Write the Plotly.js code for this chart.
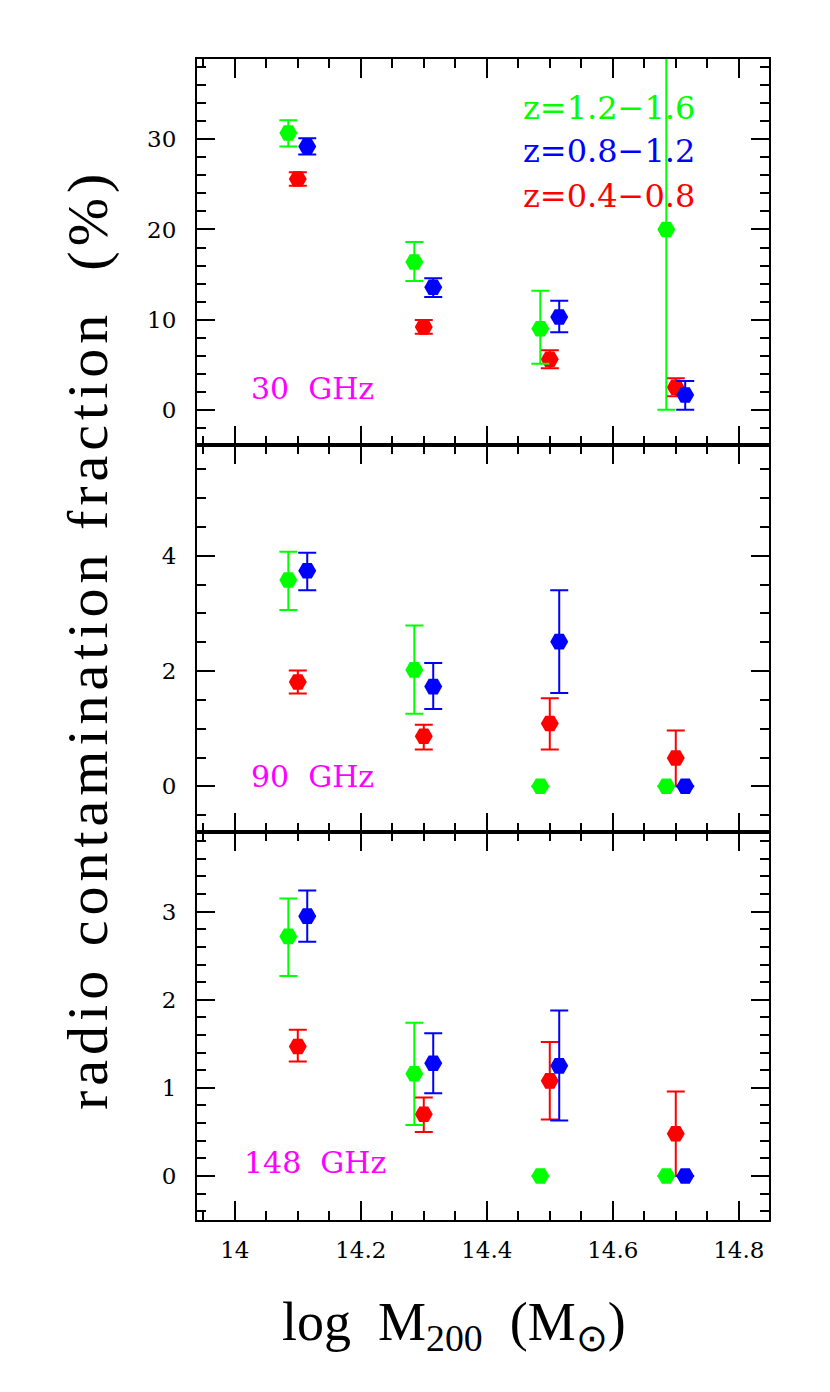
<!DOCTYPE html>
<html>
<head>
<meta charset="utf-8">
<script src="https://cdn.plot.ly/plotly-3.0.1.min.js"></script>
<style>html,body{margin:0;padding:0;background:#fff;}#chart{width:830px;height:1392px;}</style>
</head>
<body>
<div id="chart"></div>
<script>
// ---- data ----
const massGreen = [14.085, 14.285, 14.485, 14.685];
const massRed   = [14.100, 14.300, 14.500, 14.700];
const massBlue  = [14.115, 14.315, 14.515, 14.715];

const seriesNames = ["z=1.2\u22121.6", "z=0.8\u22121.2", "z=0.4\u22120.8"];
const panelNames = ["30 GHz", "90 GHz", "148 GHz"];
const xTickLabels = ["14", "14.2", "14.4", "14.6", "14.8"];
const xTickVals = [14, 14.2, 14.4, 14.6, 14.8];

// 30 GHz
const g30 = [30.7, 16.4, 9.0, 20.0];
const g30Up = [1.4, 2.2, 4.2, 30.0];
const g30Dn = [1.5, 2.1, 3.9, 20.0];
const b30 = [29.2, 13.6, 10.3, 1.65];
const b30Up = [0.9, 1.0, 1.8, 1.55];
const b30Dn = [0.9, 1.1, 1.7, 1.65];
const r30 = [25.6, 9.2, 5.6, 2.5];
const r30Up = [0.75, 0.75, 1.0, 1.0];
const r30Dn = [0.75, 0.75, 1.0, 1.0];

// 90 GHz
const g90 = [3.58, 2.02, 0, 0];
const g90Up = [0.49, 0.77, null, null];
const g90Dn = [0.52, 0.76, null, null];
const b90 = [3.74, 1.73, 2.51, 0];
const b90Up = [0.31, 0.41, 0.89, null];
const b90Dn = [0.34, 0.39, 0.89, null];
const r90 = [1.81, 0.87, 1.09, 0.49];
const r90Up = [0.20, 0.20, 0.44, 0.48];
const r90Dn = [0.20, 0.23, 0.45, 0.49];

// 148 GHz
const g148 = [2.72, 1.16, 0, 0];
const g148Up = [0.43, 0.58, null, null];
const g148Dn = [0.45, 0.58, null, null];
const b148 = [2.95, 1.28, 1.25, 0];
const b148Up = [0.29, 0.34, 0.63, null];
const b148Dn = [0.29, 0.34, 0.62, null];
const r148 = [1.47, 0.70, 1.08, 0.48];
const r148Up = [0.19, 0.19, 0.44, 0.48];
const r148Dn = [0.17, 0.20, 0.44, 0.48];

// ---- styling ----
const GREEN = "#00ff00", BLUE = "#0000ff", RED = "#ff0000", MAG = "#ff00ff";
const FONT = "DejaVu Serif";
const TITLEFONT = "Liberation Serif";

function tr(x, y, up, dn, color, xa, ya, name) {
  return {
    type: "scatter", mode: "markers", x: x, y: y, xaxis: xa, yaxis: ya, name: name,
    showlegend: false, cliponaxis: true,
    marker: {symbol: "hexagon2", size: 18, color: color, line: {width: 0}},
    error_y: {type: "data", symmetric: false, array: up, arrayminus: dn,
              color: color, thickness: 2, width: 9}
  };
}

const data = [
  // top panel (30 GHz): xaxis3 / yaxis3
  tr(massRed, r30, r30Up, r30Dn, RED, "x3", "y3", seriesNames[2]),
  tr(massBlue, b30, b30Up, b30Dn, BLUE, "x3", "y3", seriesNames[1]),
  tr(massGreen, g30, g30Up, g30Dn, GREEN, "x3", "y3", seriesNames[0]),
  // middle panel (90 GHz)
  tr(massRed, r90, r90Up, r90Dn, RED, "x2", "y2", seriesNames[2]),
  tr(massBlue, b90, b90Up, b90Dn, BLUE, "x2", "y2", seriesNames[1]),
  tr(massGreen, g90, g90Up, g90Dn, GREEN, "x2", "y2", seriesNames[0]),
  // bottom panel (148 GHz)
  tr(massRed, r148, r148Up, r148Dn, RED, "x", "y", seriesNames[2]),
  tr(massBlue, b148, b148Up, b148Dn, BLUE, "x", "y", seriesNames[1]),
  tr(massGreen, g148, g148Up, g148Dn, GREEN, "x", "y", seriesNames[0])
];

function xAxis(anchor, showLabels) {
  return {
    anchor: anchor, domain: [0, 1], range: [13.94, 14.848],
    tickmode: "array", tickvals: xTickVals, ticktext: xTickLabels,
    showticklabels: showLabels,
    ticks: "inside", ticklen: 19, tickwidth: 2, tickcolor: "#000",
    showline: true, linewidth: 2, linecolor: "#000", mirror: "allticks",
    showgrid: false, zeroline: false,
    tickfont: {family: FONT, size: 23, color: "#000"},
    ticklabelstandoff: 8,
    minor: {tick0: 14, dtick: 0.05, ticks: "inside", ticklen: 9, tickwidth: 2,
            tickcolor: "#000", showgrid: false}
  };
}
function yAxis(anchor, domain, range, dtick, mdtick) {
  return {
    anchor: anchor, domain: domain, range: range,
    tick0: 0, dtick: dtick,
    ticks: "inside", ticklen: 18, tickwidth: 2, tickcolor: "#000",
    showline: true, linewidth: 2, linecolor: "#000", mirror: "allticks",
    showgrid: false, zeroline: false,
    tickfont: {family: FONT, size: 23, color: "#000"},
    ticklabelstandoff: 14,
    minor: {tick0: 0, dtick: mdtick, ticks: "inside", ticklen: 9, tickwidth: 2,
            tickcolor: "#000", showgrid: false}
  };
}

const d1 = 0.3338, d2 = 0.6675;

function ann(text, x, y, color, size, xanchor, family, extra) {
  return Object.assign({text: text, x: x, y: y, xref: "paper", yref: "paper",
    xanchor: xanchor, yanchor: "middle", showarrow: false,
    font: {family: family || FONT, size: size, color: color}}, extra || {});
}

const layout = {
  width: 830, height: 1392,
  margin: {l: 197, r: 61, t: 59, b: 172},
  paper_bgcolor: "#fff", plot_bgcolor: "#fff",
  showlegend: false,
  xaxis: xAxis("y", true),
  xaxis2: xAxis("y2", false),
  xaxis3: xAxis("y3", false),
  yaxis: yAxis("x", [0, d1], [-0.5, 3.9], 1, 0.2),
  yaxis2: yAxis("x2", [d1, d2], [-0.8, 5.92], 2, 0.5),
  yaxis3: yAxis("x3", [d2, 1], [-3.9, 38.9], 10, 2),
  annotations: [
    ann(seriesNames[0], 0.5664, 0.9578, GREEN, 32, "left"),
    ann(seriesNames[1], 0.5664, 0.9208, BLUE, 32, "left"),
    ann(seriesNames[2], 0.5664, 0.8820, RED, 32, "left"),
    ann(panelNames[0].replace(" ", "\u00a0\u00a0"), 0.0906, 0.7166, MAG, 30, "left"),
    ann(panelNames[1].replace(" ", "\u00a0\u00a0"), 0.0906, 0.3816, MAG, 30, "left"),
    ann(panelNames[2].replace(" ", "\u00a0\u00a0"), 0.0784, 0.0491, MAG, 30, "left"),
    ann("log\u00a0\u00a0M<sub>200</sub>\u00a0\u00a0(M<sub>\u2299</sub>)", 0.449, -0.0913, "#000", 54, "center", TITLEFONT),
    ann("radio contamination fraction\u00a0\u00a0(%)", -0.1906, 0.5, "#000", 58, "center", TITLEFONT, {textangle: -90})
  ]
};

Plotly.newPlot("chart", data, layout, {staticPlot: true, displayModeBar: false}).then(function () {
  document.querySelectorAll("text.annotation-text").forEach(function (t) {
    if (t.textContent.indexOf("radio") === 0) t.style.letterSpacing = "5px";
  });
});
</script>
</body>
</html>
